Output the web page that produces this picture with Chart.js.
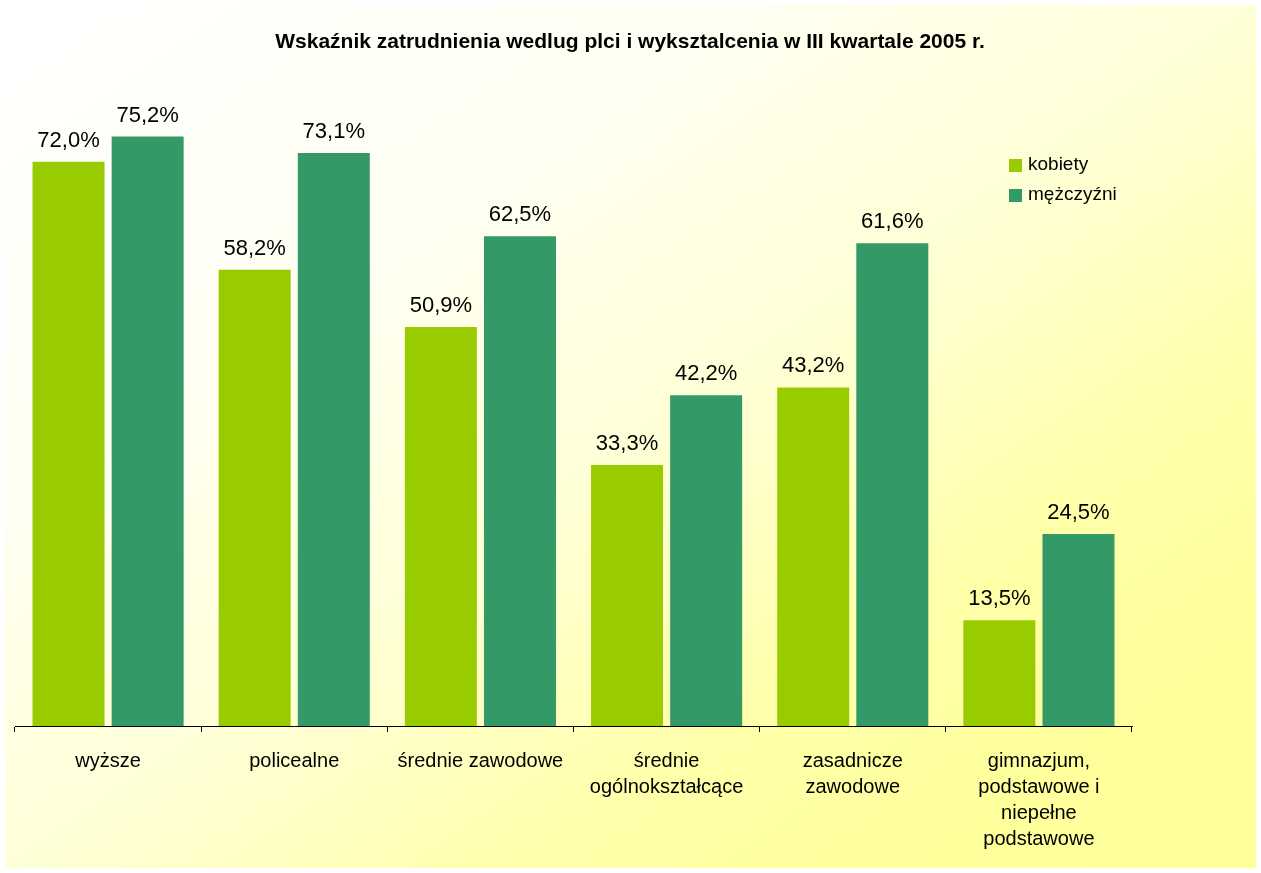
<!DOCTYPE html>
<html>
<head>
<meta charset="utf-8">
<script src="https://cdn.jsdelivr.net/npm/chart.js@4"></script>
<style>
  html, body { margin: 0; padding: 0; background: #fff; }
  #wrap { width: 1261px; height: 873px; }
</style>
</head>
<body>
<div id="wrap"><canvas id="chart" width="1261" height="873"></canvas></div>
<script>
'use strict'
const ctx = document.getElementById('chart').getContext('2d')
const FONT = '"Liberation Sans", Arial, sans-serif'

const title = 'Wskaźnik zatrudnienia wedlug plci i wyksztalcenia w III kwartale 2005 r.'
const categories = [
  'wyższe',
  'policealne',
  'średnie zawodowe',
  ['średnie', 'ogólnokształcące'],
  ['zasadnicze', 'zawodowe'],
  ['gimnazjum,', 'podstawowe i', 'niepełne', 'podstawowe'],
]
const kobiety = [72.0, 58.2, 50.9, 33.3, 43.2, 13.5]
const mezczyzni = [75.2, 73.1, 62.5, 42.2, 61.6, 24.5]

// panel background: white top-left -> yellow bottom-right (corner to corner)
const background = {
  id: 'background',
  beforeDraw(chart) {
    const c = chart.ctx
    c.save()
    c.fillStyle = '#ffffff'
    c.fillRect(0, 0, chart.width, chart.height)
    c.translate(5, 5)
    c.scale(1251, 863)
    const g = c.createLinearGradient(0, 0, 1, 1)
    g.addColorStop(0, '#ffffff')
    g.addColorStop(0.3, '#fffff2')
    g.addColorStop(0.5, '#ffffd8')
    g.addColorStop(0.56, '#ffffcc')
    g.addColorStop(0.71, '#ffffaa')
    g.addColorStop(0.86, '#ffff9c')
    g.addColorStop(1, '#ffff99')
    c.fillStyle = g
    c.fillRect(0, 0, 1, 1)
    c.restore()

    c.save()
    c.font = 'bold 21px ' + FONT
    c.fillStyle = '#000'
    c.textAlign = 'center'
    c.textBaseline = 'middle'
    c.fillText(title, 630, 42)
    c.restore()
  },
}

// value labels above bars
const valueLabels = {
  id: 'valueLabels',
  afterDatasetsDraw(chart) {
    const c = chart.ctx
    c.save()
    c.font = '22px ' + FONT
    c.fillStyle = '#000'
    c.textAlign = 'center'
    c.textBaseline = 'alphabetic'
    chart.data.datasets.forEach((ds, i) => {
      chart.getDatasetMeta(i).data.forEach((bar, j) => {
        const txt = ds.data[j].toFixed(1).replace('.', ',') + '%'
        c.fillText(txt, bar.x, bar.y - 15)
      })
    })
    c.restore()
  },
}

// legend drawn inside the plot area, top right
const legendBox = {
  id: 'legendBox',
  afterDraw(chart) {
    const c = chart.ctx
    c.save()
    c.font = '19px ' + FONT
    c.textBaseline = 'middle'
    chart.data.datasets.forEach((ds, i) => {
      const y = 165 + i * 30
      c.fillStyle = ds.backgroundColor
      c.fillRect(1009, y - 6, 13, 13)
      c.fillStyle = '#000'
      c.fillText(ds.label, 1028, y)
    })
    c.restore()
  },
}

const data = {
  labels: categories,
  datasets: [
    {
      label: 'kobiety',
      backgroundColor: '#99cc00',
      data: kobiety,
    },
    {
      label: 'mężczyźni',
      backgroundColor: '#339966',
      data: mezczyzni,
    },
  ],
}

const config = {
  type: 'bar',
  data: data,
  options: {
    responsive: false,
    animation: false,
    categoryPercentage: 0.85,
    barPercentage: 0.91,
    layout: {
      padding: { left: 15, right: 129, top: 99, bottom: 0 },
    },
    scales: {
      x: {
        grid: {
          display: true,
          drawOnChartArea: false,
          drawTicks: true,
          tickLength: 6,
          color: '#000',
          offset: true,
        },
        border: { display: true, color: '#000', width: 1 },
        ticks: {
          color: '#000',
          padding: 16,
          maxRotation: 0,
          autoSkip: false,
          font: { family: FONT, size: 20, lineHeight: 1.3 },
        },
        afterFit(scale) {
          scale.height = 147
        },
      },
      y: {
        display: false,
        min: 0,
        max: 80,
      },
    },
    plugins: {
      legend: { display: false },
      tooltip: { enabled: false },
      title: { display: false },
    },
  },
  plugins: [background, valueLabels, legendBox],
}

const chart = new Chart(ctx, config)
</script>
</body>
</html>
